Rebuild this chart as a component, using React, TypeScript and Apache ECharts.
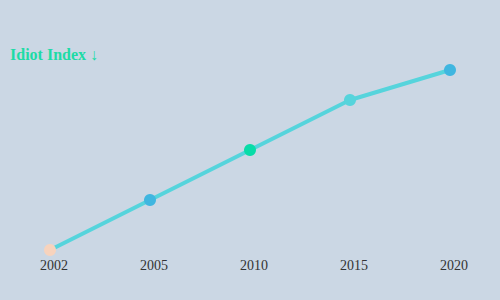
import React, { useEffect, useRef } from "react";
import * as echarts from "echarts";

const years = ["2002", "2005", "2010", "2015", "2020"];
const values = [0, 25, 50, 75, 90];
const pointColors = ["#f7d3bd", "#3fb6e0", "#08dca8", "#56d4dc", "#3fb6e0"];

export default function App() {
  const ref = useRef<HTMLDivElement>(null);
  useEffect(() => {
    if (!ref.current) return;
    const chart = echarts.init(ref.current, undefined, { renderer: "svg" });
    chart.setOption({
      animation: false,
      backgroundColor: "#cbd7e4",
      title: {
        text: "Idiot Index ↓",
        left: 10,
        top: 46,
        padding: 0,
        textStyle: { color: "#1ddba6", fontFamily: "serif", fontWeight: "bold", fontSize: 16 },
      },
      grid: { left: 50, right: 50, top: 50, bottom: 50 },
      xAxis: {
        type: "category",
        data: years,
        boundaryGap: false,
        axisLine: { show: false },
        axisTick: { show: false },
        axisLabel: { color: "#333", fontFamily: "serif", fontSize: 14, margin: 8, padding: [0, 0, 0, 8] },
      },
      yAxis: { type: "value", min: 0, max: 100, show: false },
      series: [
        {
          type: "line",
          data: values.map((v, i) => ({ value: v, itemStyle: { color: pointColors[i] } })),
          lineStyle: { color: "#56d4dc", width: 4 },
          symbol: "circle",
          symbolSize: 12,
        },
      ],
    });
    return () => chart.dispose();
  }, []);
  return <div ref={ref} style={{ width: 500, height: 300, position: "absolute", left: 0, top: 0 }} />;
}
